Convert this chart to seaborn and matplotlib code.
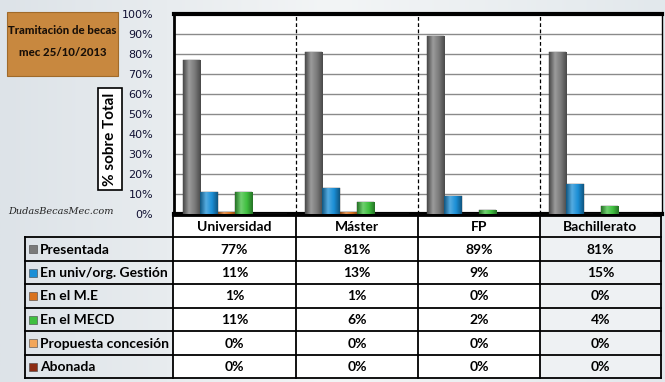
import matplotlib
matplotlib.use("Agg")
import matplotlib.pyplot as plt
import matplotlib.colors as mcolors
import seaborn as sns
import pandas as pd
import numpy as np
from matplotlib.patches import Rectangle

categories = ["Universidad", "Máster", "FP", "Bachillerato"]
series = ["Presentada", "En univ/org. Gestión", "En el M.E", "En el MECD",
          "Propuesta concesión", "Abonada"]
presentada = [77, 81, 89, 81]
en_univ = [11, 13, 9, 15]
en_me = [1, 1, 0, 0]
en_mecd = [11, 6, 2, 4]
propuesta = [0, 0, 0, 0]
abonada = [0, 0, 0, 0]
values = [presentada, en_univ, en_me, en_mecd, propuesta, abonada]
colors = ["#7a7a7a", "#1b8fd6", "#d9731f", "#3fbf3f", "#f2a65a", "#8c2b12"]
yticks = list(range(0, 101, 10))

rows = []
for s, vals in zip(series, values):
    for c, v in zip(categories, vals):
        rows.append({"cat": c, "series": s, "val": v})
df = pd.DataFrame(rows)

W, H = 665, 382
fig = plt.figure(figsize=(W / 100, H / 100), dpi=100)
fig.patch.set_facecolor("#e6ebee")

def fx(x): return x / W
def fy(y): return 1 - y / H

# background gradient
bg = fig.add_axes([0, 0, 1, 1], zorder=-10)
grad = np.linspace(0, 1, 256)[None, :]
bg.imshow(grad, extent=[0, 1, 0, 1], aspect="auto",
          cmap=mcolors.LinearSegmentedColormap.from_list("g", ["#dde3e8", "#f3f5f6", "#e2e8ec"]))
bg.axis("off")

ax = fig.add_axes([fx(174), fy(214), fx(662 - 174), (214 - 14) / H])
ax.set_facecolor("white")
sns.barplot(data=df, x="cat", y="val", hue="series", palette=colors,
            hue_order=series, order=categories, width=0.86, saturation=1,
            ax=ax, legend=False, edgecolor="#333333", linewidth=0.3, zorder=3)
ax.set_ylim(0, 100)
ax.set_xlim(-0.5, len(categories) - 0.5)

# cylinder-like shading on each bar
for p in list(ax.patches):
    h = p.get_height()
    if h <= 0:
        continue
    base = np.array(mcolors.to_rgb(p.get_facecolor()))
    dark = base * 0.6
    light = np.clip(base + (1 - base) * 0.25, 0, 1)
    cmap = mcolors.LinearSegmentedColormap.from_list("b", [dark, light, base, dark])
    x0 = p.get_x()
    w = p.get_width()
    im = ax.imshow(np.linspace(0, 1, 64)[None, :], extent=[x0, x0 + w, 0, h],
                   aspect="auto", cmap=cmap, zorder=3.5)
    im.set_clip_path(p)
ax.set_xlim(-0.5, len(categories) - 0.5)
ax.set_ylim(0, 100)
ax.set_aspect("auto")

ax.set_yticks(yticks)
ax.set_yticklabels([f"{t}%" for t in yticks], fontsize=8, color="#111133",
                   family="DejaVu Sans")
ax.tick_params(axis="y", length=0, pad=15)
ax.set_xticks([])
ax.set_xlabel("")
ax.set_ylabel("")
ax.grid(axis="y", color="#8a8a8a", linewidth=1, zorder=0)
ax.set_axisbelow(True)
for i in range(1, len(categories)):
    ax.axvline(i - 0.5, color="black", linestyle=(0, (3, 2)), linewidth=0.9, zorder=1)
ax.spines["top"].set_linewidth(3)
ax.spines["bottom"].set_linewidth(3)
ax.spines["left"].set_linewidth(2)
ax.spines["right"].set_linewidth(1)

# data table
tax = fig.add_axes([0, 0, 1, 1], zorder=2)
tax.set_xlim(0, W)
tax.set_ylim(H, 0)
tax.axis("off")
tax.patch.set_alpha(0)
col_edges = [173, 296, 418, 540, 661]
row_edges = [216, 237, 261, 284, 308, 331, 355, 378]
label_left = 25
font = ["Lato", "DejaVu Sans"]
tax.add_patch(Rectangle((col_edges[0], row_edges[0]), col_edges[-1] - col_edges[0],
                        row_edges[-1] - row_edges[0], facecolor="white", edgecolor="none", zorder=0))
tax.add_patch(Rectangle((col_edges[-2], row_edges[0]), col_edges[-1] - col_edges[-2],
                        row_edges[-1] - row_edges[0], facecolor="#eef1f3", edgecolor="none", zorder=0))
for x in col_edges:
    tax.plot([x, x], [row_edges[0], row_edges[-1]], color="black", lw=1.3, zorder=2)
tax.plot([label_left, label_left], [row_edges[1], row_edges[-1]], color="black", lw=1.3, zorder=2)
for i, y in enumerate(row_edges):
    x0 = col_edges[0] if i == 0 else label_left
    tax.plot([x0, col_edges[-1]], [y, y], color="black", lw=1.3, zorder=2)
for j, c in enumerate(categories):
    tax.text((col_edges[j] + col_edges[j + 1]) / 2, (row_edges[0] + row_edges[1]) / 2 + 0.5, c,
             ha="center", va="center", fontsize=10, fontweight="bold", family=font)
for i, (s, vals, col) in enumerate(zip(series, values, colors)):
    yc = (row_edges[i + 1] + row_edges[i + 2]) / 2
    tax.add_patch(Rectangle((29, yc - 4), 8, 8, facecolor=col, edgecolor="#444444", lw=0.4, zorder=3))
    tax.text(40, yc + 0.5, s, ha="left", va="center", fontsize=10, fontweight="bold", family=font)
    for j, v in enumerate(vals):
        tax.text((col_edges[j] + col_edges[j + 1]) / 2, yc + 0.5, f"{v}%",
                 ha="center", va="center", fontsize=10, fontweight="bold", family=font)

# title box
tax.add_patch(Rectangle((7, 12), 111, 64, facecolor="#c8883f", edgecolor="#a06a2a", lw=0.8, zorder=3))
tax.text(62.5, 31, "Tramitación de becas", ha="center", va="center", fontsize=8.2,
         fontweight="black", family=font, color="#1a1008", zorder=4)
tax.text(62.5, 52, "mec 25/10/2013", ha="center", va="center", fontsize=8.2,
         fontweight="black", family=font, color="#1a1008", zorder=4)

# y label box
tax.add_patch(Rectangle((98, 88), 24, 102, facecolor="white", edgecolor="black", lw=1.2, zorder=3))
tax.text(110, 139, "% sobre Total", ha="center", va="center", rotation=90, fontsize=11,
         fontweight="bold", family=font, zorder=4)

# watermark
tax.text(8, 211, "DudasBecasMec.com", ha="left", va="center", fontsize=7, style="italic",
         family="DejaVu Serif", color="#222222", zorder=4)

fig.savefig("out.png", dpi=100, facecolor=fig.get_facecolor())
